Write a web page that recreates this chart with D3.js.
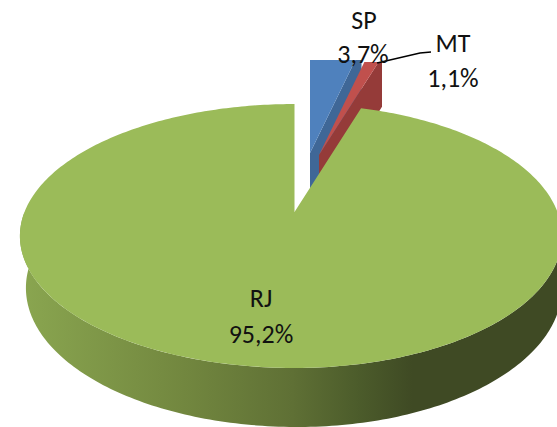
<!DOCTYPE html>
<html><head><meta charset="utf-8"><style>html,body{margin:0;padding:0;background:#fff}svg{display:block}text{font-family:Carlito,Calibri,Lato,"Open Sans",sans-serif}</style>
<script src="https://cdn.jsdelivr.net/npm/d3@7/dist/d3.min.js"></script></head><body><svg id="c" width="557" height="427"></svg>
<script>
const categories=["SP","MT","RJ"];
const values=[3.7,1.1,95.2];
const labels=["3,7%","1,1%","95,2%"];
const colors=["#4f81bd","#c0504d","#9bbb59"];
const sideColors=["#3f6797","#953b39"];
const W=557,H=427;
const svg=d3.select("#c").attr("viewBox",[0,0,W,H]);
const pie=d3.pie().sort(null).value(d=>d)(values);
const B=127.6,k=0.182,depth=50;
function proj(a,o){const u=Math.sin(a),v=Math.cos(a),w=1+k*v,A=u<0?270:263;return [o[0]+A*u/w,o[1]-B*v/w];}
function arcPts(a0,a1,o){const n=Math.max(2,Math.ceil((a1-a0)*60));return d3.range(n+1).map(i=>proj(a0+(a1-a0)*i/n,o));}
function lower(p){return [p[0]+6*(1-(p[0]-20)/537),p[1]+52+7*(p[1]-238)/130];}
const line=d3.line().curve(d3.curveLinear);
const origins=[[310,153],[319,155],[294.5,212]];
const defs=svg.append("defs");
const grad=defs.append("linearGradient").attr("id","g").attr("gradientUnits","userSpaceOnUse").attr("x1",20).attr("x2",565).attr("y1",0).attr("y2",0);
[[0,"#8aa650"],[0.3,"#72873f"],[0.5,"#5f7035"],[0.62,"#4c5c2b"],[0.72,"#3f4a24"],[1,"#3f4a24"]].forEach(s=>grad.append("stop").attr("offset",s[0]).attr("stop-color",s[1]));
const clip=[[309,60,60,200],[300,62,82,200]];
clip.forEach((c,i)=>defs.append("clipPath").attr("id","cp"+i).append("rect").attr("x",c[0]).attr("y",c[1]).attr("width",c[2]).attr("height",c[3]));
pie.slice(0,2).forEach((p,i)=>{const o=origins[i];const c=arcPts(p.startAngle,p.endAngle,o);
 const e=c[c.length-1];
 const g=svg.append("g").attr("clip-path",`url(#cp${i})`);
 g.append("path").attr("d",line([o,e,[e[0],e[1]+depth],[o[0],o[1]+depth]])+"Z").attr("fill",sideColors[i]);
 g.append("path").attr("d",line([o,...c])+"Z").attr("fill",colors[i]);
});
const gp=pie[2],go=origins[2];
const rim=arcPts(Math.PI*0.5,Math.PI*1.5,go);
const side=[...rim,...rim.slice().reverse().map(lower)];
svg.append("path").attr("d",line(side)+"Z").attr("fill","url(#g)");
svg.append("path").attr("d",line([go,...arcPts(gp.startAngle,gp.endAngle,go)])+"Z").attr("fill",colors[2]);
svg.append("path").attr("d","M377,63L420,53L431,52").attr("fill","none").attr("stroke","#000").attr("stroke-width",1.3);
const T=[[364,29],[363,63],[453,52],[453,87],[261,307],[261,343]];
const txt=[categories[0],labels[0],categories[1],labels[1],categories[2],labels[2]];
svg.selectAll("text.l").data(T).join("text").attr("class","l").attr("x",d=>d[0]).attr("y",d=>d[1]).attr("text-anchor","middle").attr("font-size",26).attr("fill","#111").text((d,i)=>txt[i]);
</script></body></html>
